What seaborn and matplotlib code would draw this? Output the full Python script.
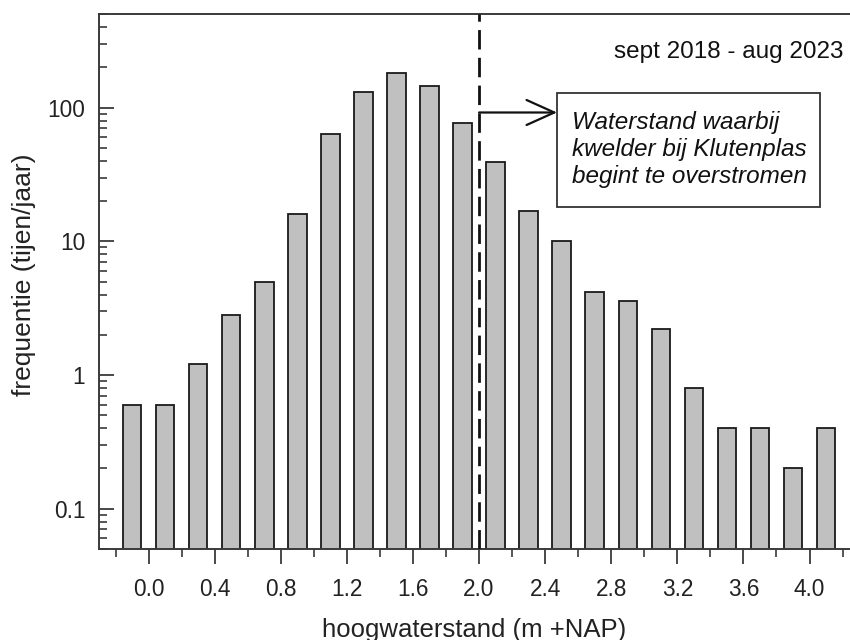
import matplotlib
matplotlib.use("Agg")
import matplotlib.pyplot as plt
from matplotlib.patches import Rectangle
from matplotlib.ticker import FixedLocator, FuncFormatter, LogLocator, NullFormatter
import seaborn as sns
import pandas as pd

# High-water level classes (bin centres, m +NAP) and yearly frequencies
bin_centres = [-0.1, 0.1, 0.3, 0.5, 0.7, 0.9, 1.1, 1.3, 1.5, 1.7, 1.9,
               2.1, 2.3, 2.5, 2.7, 2.9, 3.1, 3.3, 3.5, 3.7, 3.9, 4.1]
frequency = [0.6, 0.6, 1.2, 2.8, 5.0, 16, 63, 132, 183, 146, 77,
             39, 16.8, 10, 4.2, 3.6, 2.2, 0.8, 0.4, 0.4, 0.2, 0.4]
x_tick_values = [0.0, 0.4, 0.8, 1.2, 1.6, 2.0, 2.4, 2.8, 3.2, 3.6, 4.0]
y_tick_values = [0.1, 1, 10, 100]
flood_level = 2.0
period_label = "sept 2018 - aug 2023"
note_text = "Waterstand waarbij\nkwelder bij Klutenplas\nbegint te overstromen"

df = pd.DataFrame({"level": bin_centres, "freq": frequency})

sns.set_style("ticks")
plt.rcParams["font.family"] = ["Liberation Sans", "DejaVu Sans"]

fig = plt.figure(figsize=(8.5, 6.4), dpi=100)
ax = fig.add_axes([0.1165, 0.1422, 0.8835, 0.8356])

sns.barplot(data=df, x="level", y="freq", native_scale=True, width=0.56,
            color="#c0c0c0", saturation=1, edgecolor="#1a1a1a",
            linewidth=1.3, ax=ax)

ax.set_yscale("log")
ax.set_ylim(0.05, 500)
ax.set_xlim(-0.3, 4.245)

axis_col = "#3a3a3a"
for side in ["left", "bottom", "top"]:
    ax.spines[side].set_color(axis_col)
    ax.spines[side].set_linewidth(1.4)
ax.spines["right"].set_visible(False)

ax.xaxis.set_major_locator(FixedLocator(x_tick_values))
ax.xaxis.set_minor_locator(FixedLocator([-0.2 + 0.4 * i for i in range(12)]))
ax.xaxis.set_major_formatter(FuncFormatter(lambda v, p: f"{v:.1f}"))
ax.yaxis.set_major_locator(FixedLocator(y_tick_values))
ax.yaxis.set_minor_locator(LogLocator(base=10, subs=range(2, 10)))
ax.yaxis.set_minor_formatter(NullFormatter())
ax.yaxis.set_major_formatter(FuncFormatter(lambda v, p: f"{v:g}"))

tick_col = "#222222"
ax.tick_params(axis="x", which="major", direction="out", length=11,
               width=1.3, color=axis_col, labelsize=16.3, pad=10,
               labelcolor=tick_col)
ax.tick_params(axis="x", which="minor", direction="out", length=5.5,
               width=1.2, color=axis_col)
ax.tick_params(axis="y", which="major", direction="in", length=11,
               width=1.3, color=axis_col, labelsize=16.3, pad=10,
               labelcolor=tick_col)
ax.tick_params(axis="y", which="minor", direction="in", length=5.5,
               width=1.2, color=axis_col)

ax.set_xlabel("hoogwaterstand (m +NAP)", fontsize=18.5, color=tick_col)
ax.set_ylabel("frequentie (tijen/jaar)", fontsize=19, color=tick_col)
ax.xaxis.set_label_coords(0.5, -0.151)
ax.xaxis.label.set_va("center")
ax.yaxis.set_label_coords(-0.0999, 0.513)
ax.yaxis.label.set_va("center")

# Level at which the salt marsh starts to flood
ax.axvline(flood_level, color="#111111", linewidth=2.0,
           linestyle=(0, (7, 3)), zorder=5)

ax.annotate("", xy=(2.472, 92), xytext=(flood_level, 92),
            arrowprops=dict(arrowstyle="->,head_length=2.0,head_width=0.9",
                            color="#111111", lw=1.6, mutation_scale=10,
                            shrinkA=0, shrinkB=0), zorder=6)

# Framed note next to the arrow
box_trans = ax.get_xaxis_transform()
ax.add_patch(Rectangle((2.472, 0.6386), 4.063 - 2.472, 0.852 - 0.6386,
                       transform=box_trans, fc="white", ec="#333333",
                       lw=1.3, zorder=6.5))
ax.text(2.561, 0.747, note_text, transform=box_trans,
        fontsize=17.5, style="italic", ha="left", va="center",
        linespacing=1.2, color="#111111", zorder=7)

ax.text(0.9907, 0.929, period_label, transform=ax.transAxes, fontsize=17.5,
        ha="right", va="center", color="#111111")

fig.savefig("out.png", dpi=100)
